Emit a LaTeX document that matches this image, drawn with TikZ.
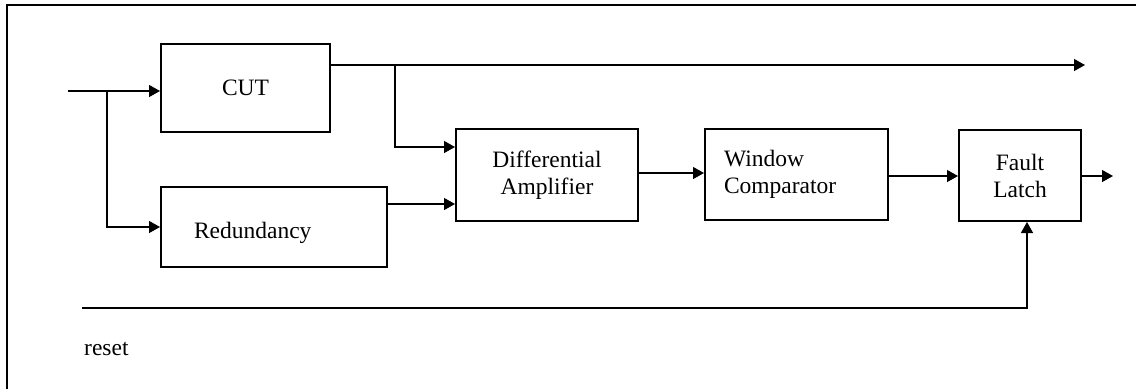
\documentclass[tikz,border=0pt]{standalone}
\usepackage{fontspec}
\setmainfont{Liberation Serif}
\usetikzlibrary{arrows.meta,positioning,calc}
\tikzset{
  blk/.style={draw,line width=2pt,inner sep=0pt,align=center,
              font=\fontsize{23.5}{27}\selectfont},
  ar/.style={line width=1.3pt,-{Triangle[length=11pt,width=12pt]}},
  every picture/.style={line cap=butt,line join=miter}}

\begin{document}
\begin{tikzpicture}[x=1pt,y=-1pt]
  \useasboundingbox (0,0) rectangle (1136,389);
  \draw[line width=2pt] (7,389)--(7,5)--(1136,5);
  \node[blk,minimum width=169pt,minimum height=88pt] (cut) at (245.5,88){CUT};
  \node[blk,minimum height=80pt,text width=160pt,inner xsep=33pt,align=left] (red) at (274,227){\raisebox{-6pt}[\height][\depth]{Redundancy}};
  \node[blk,minimum width=182pt,minimum height=92pt] (amp) at (547,175){Differential\\Amplifier};
  \node[blk,minimum height=91pt,text width=145pt,inner xsep=19pt,align=left] (win) at (796.5,174.5){Window\\Comparator};
  \node[blk,minimum width=122pt,minimum height=91pt] (lat) at (1020,175.5){Fault\\Latch};
  \node[anchor=west,inner sep=0pt,font=\fontsize{23.5}{27}\selectfont] (rst) at (84,349){reset};
  \coordinate (in) at (68,91);\coordinate (b1) at (107,91);
  \coordinate (o1) at (1085,65);\coordinate (b2) at (395,65);
  \coordinate (o2) at (1113,176);\coordinate (rs) at (82,308);
  \draw[ar] (in)--(cut.west |- in);
  \draw[ar] (b1)|-(red.west);
  \draw[ar] (cut.east |- o1)--(o1);
  \draw[ar] (b2)|-([yshift=28pt]amp.west);
  \draw[ar] ([yshift=23pt]red.east)--([yshift=-29pt]amp.west);
  \draw[ar] ([yshift=2pt]amp.east)--([yshift=2pt]amp.east -| win.west);
  \draw[ar] ([yshift=-1.5pt]win.east)--([yshift=-1.5pt]win.east -| lat.west);
  \draw[ar] (lat.east |- o2)--(o2);
  \draw[ar] (rs)-|([xshift=7pt]lat.south);
\end{tikzpicture}
\end{document}
